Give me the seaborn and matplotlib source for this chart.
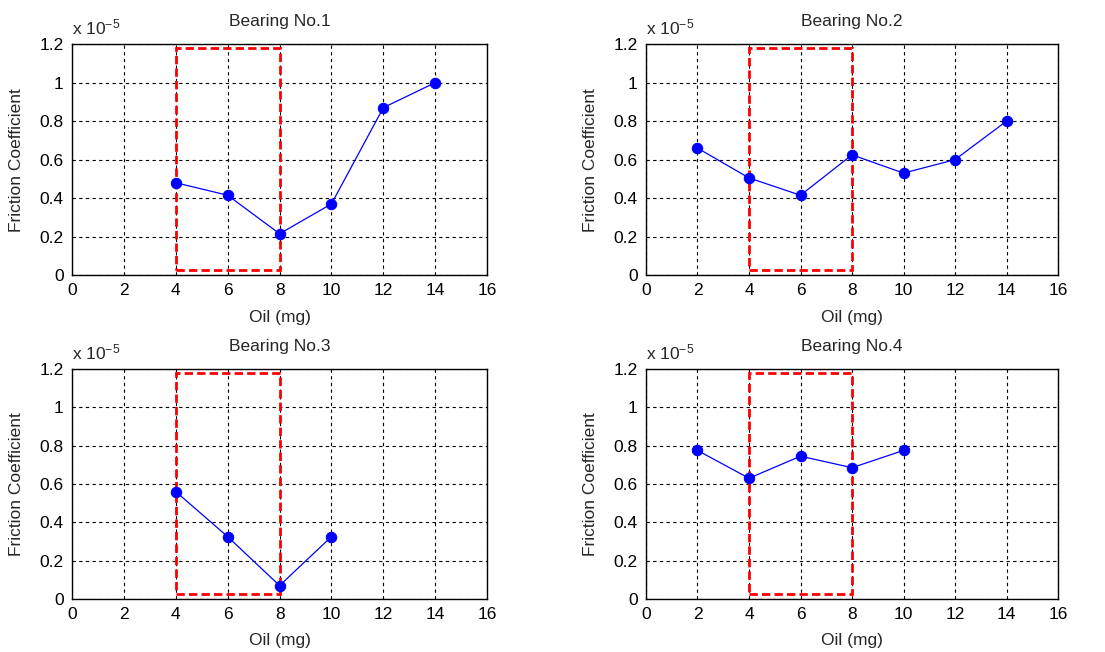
import matplotlib
matplotlib.use("Agg")
import matplotlib.pyplot as plt
from matplotlib.patches import Rectangle
import seaborn as sns
import pandas as pd

# friction coefficient values, in units of 1e-5
oil_1 = [4, 6, 8, 10, 12, 14]
fric_1 = [0.48, 0.415, 0.215, 0.37, 0.87, 1.0]

oil_2 = [2, 4, 6, 8, 10, 12, 14]
fric_2 = [0.66, 0.505, 0.415, 0.625, 0.53, 0.60, 0.80]

oil_3 = [4, 6, 8, 10]
fric_3 = [0.56, 0.325, 0.07, 0.325]

oil_4 = [2, 4, 6, 8, 10]
fric_4 = [0.775, 0.63, 0.745, 0.685, 0.775]

titles = ["Bearing No.1", "Bearing No.2", "Bearing No.3", "Bearing No.4"]
x_ticks = [0, 2, 4, 6, 8, 10, 12, 14, 16]
y_ticks = [0, 0.2, 0.4, 0.6, 0.8, 1.0, 1.2]
y_tick_labels = ["0", "0.2", "0.4", "0.6", "0.8", "1", "1.2"]
box_x = (4, 8)
box_y = (0.025, 1.18)

sns.set_style("white")
plt.rcParams["font.family"] = ["Liberation Sans", "DejaVu Sans"]
plt.rcParams["mathtext.fontset"] = "custom"
plt.rcParams["mathtext.rm"] = "Liberation Sans"
plt.rcParams["mathtext.it"] = "Liberation Sans"

fig = plt.figure(figsize=(11.05, 6.52), dpi=100)
rects = [
    [0.0652, 0.578, 0.3756, 0.3543],
    [0.5846, 0.578, 0.3729, 0.3543],
    [0.0652, 0.0813, 0.3756, 0.3528],
    [0.5846, 0.0813, 0.3729, 0.3528],
]
data = [(oil_1, fric_1), (oil_2, fric_2), (oil_3, fric_3), (oil_4, fric_4)]

fs = 12.5
for rect, (xs, ys), title in zip(rects, data, titles):
    ax = fig.add_axes(rect)
    df = pd.DataFrame({"oil": xs, "fric": ys})
    ax.set_axisbelow(True)
    ax.grid(True, color="black", linestyle=(0, (3, 3)), linewidth=0.8)
    ax.add_patch(Rectangle((box_x[0], box_y[0]), box_x[1] - box_x[0], box_y[1] - box_y[0],
                           fill=False, edgecolor="#ff0000", linestyle=(0, (3, 1.5)),
                           linewidth=2, zorder=3))
    sns.lineplot(data=df, x="oil", y="fric", ax=ax, color="#0000ff", linewidth=0.9,
                 marker="o", markersize=7.5, markeredgecolor="#0000ff", zorder=4)
    ax.set_xlim(0, 16)
    ax.set_ylim(0, 1.2)
    ax.set_xticks(x_ticks)
    ax.set_yticks(y_ticks)
    ax.set_yticklabels(y_tick_labels)
    ax.tick_params(direction="in", length=4, labelsize=fs, colors="black", pad=6)
    for s in ax.spines.values():
        s.set_color("black")
        s.set_linewidth(1)
    ax.set_xlabel("Oil (mg)", fontsize=fs, labelpad=8)
    ax.set_ylabel("Friction Coefficient", fontsize=fs, labelpad=11)
    ax.set_title(title, fontsize=fs, pad=13)
    ax.text(0, 1.03, r"x 10$^{-5}$", transform=ax.transAxes, fontsize=fs,
            ha="left", va="bottom")

fig.savefig("out.png", dpi=100)
